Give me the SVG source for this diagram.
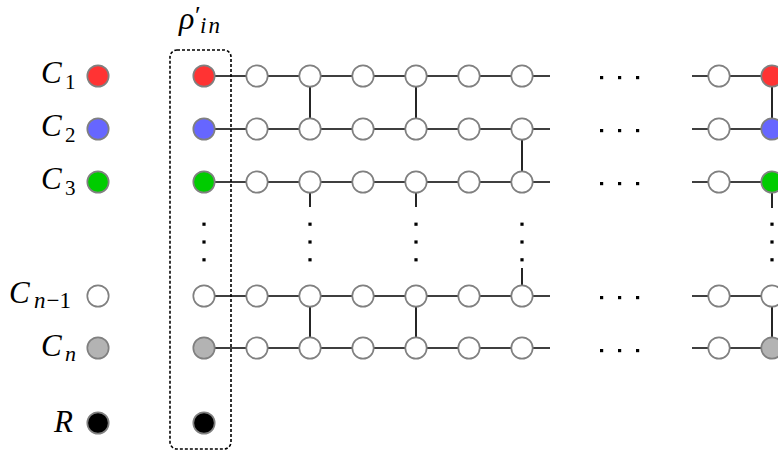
<svg xmlns="http://www.w3.org/2000/svg" width="778" height="455" viewBox="0 0 778 455">
<style>
.n{stroke:#808080;stroke-width:1.7;fill:#fff}
.red{fill:#ff3333}.blue{fill:#6666ff}.green{fill:#00cc00}.gray{fill:#b3b3b3}.blk{fill:#000}
.e{stroke:#000;stroke-width:1.7;fill:none}
.d{fill:#000}
.t{font-family:"Liberation Serif",serif;font-style:italic;font-size:31px;fill:#000}
.s{font-family:"Liberation Serif",serif;font-size:21px;fill:#000;font-style:normal}
.si{font-family:"Liberation Serif",serif;font-size:22px;fill:#000;font-style:italic}
</style>
<rect width="778" height="455" fill="#fff"/>
<g id="labels">
<text class="t" x="41" y="83">C</text><text class="s" x="65" y="89">1</text>
<text class="t" x="41" y="136">C</text><text class="s" x="65" y="142">2</text>
<text class="t" x="41" y="189">C</text><text class="s" x="65" y="195">3</text>
<text class="t" x="9" y="303">C</text><text class="si" x="34" y="308" style="font-size:23px">n<tspan class="s" dx="1" style="font-size:23px">−1</tspan></text>
<text class="t" x="41" y="356">C</text><text class="si" x="65" y="361">n</text>
<text class="t" x="54" y="432">R</text>
<text class="t" x="179" y="29" style="font-size:32px">ρ<tspan x="195" y="24" style="font-size:26px;font-style:normal">′</tspan><tspan x="200" y="33" style="font-size:23px">i</tspan><tspan dx="2" style="font-size:23px">n</tspan></text>
</g>
<g id="box"><rect x="170" y="50" width="61" height="399" rx="7" fill="none" stroke="#000" stroke-width="1.6" stroke-dasharray="3 2"/></g>
<g id="connectors">
<path class="e" d="M204 76H550M204 129H550M204 182H550M204 296H550M204 348H550"/>
<path class="e" d="M692 76H778M692 129H778M692 182H778M692 296H778M692 348H778"/>
<path class="e" d="M310 76V129M416 76V129M522 129V182M310 182V207M416 182V207M522 268V296M310 296V348M416 296V348"/>
<path class="e" d="M772 76V129M772 182V208M772 296V348"/>
</g>
<g id="dots">
<rect class="d" x="600" y="76" width="3.2" height="3.2"/><rect class="d" x="618" y="76" width="3.2" height="3.2"/><rect class="d" x="636" y="76" width="3.2" height="3.2"/>
<rect class="d" x="600" y="129" width="3.2" height="3.2"/><rect class="d" x="618" y="129" width="3.2" height="3.2"/><rect class="d" x="636" y="129" width="3.2" height="3.2"/>
<rect class="d" x="600" y="182" width="3.2" height="3.2"/><rect class="d" x="618" y="182" width="3.2" height="3.2"/><rect class="d" x="636" y="182" width="3.2" height="3.2"/>
<rect class="d" x="600" y="296" width="3.2" height="3.2"/><rect class="d" x="618" y="296" width="3.2" height="3.2"/><rect class="d" x="636" y="296" width="3.2" height="3.2"/>
<rect class="d" x="600" y="349" width="3.2" height="3.2"/><rect class="d" x="618" y="349" width="3.2" height="3.2"/><rect class="d" x="636" y="349" width="3.2" height="3.2"/>
<rect class="d" x="202.4" y="222.6" width="3.2" height="3.2"/><rect class="d" x="202.4" y="240.4" width="3.2" height="3.2"/><rect class="d" x="202.4" y="258.2" width="3.2" height="3.2"/>
<rect class="d" x="308.4" y="222.6" width="3.2" height="3.2"/><rect class="d" x="308.4" y="240.4" width="3.2" height="3.2"/><rect class="d" x="308.4" y="258.2" width="3.2" height="3.2"/>
<rect class="d" x="414.4" y="222.6" width="3.2" height="3.2"/><rect class="d" x="414.4" y="240.4" width="3.2" height="3.2"/><rect class="d" x="414.4" y="258.2" width="3.2" height="3.2"/>
<rect class="d" x="520.4" y="222.6" width="3.2" height="3.2"/><rect class="d" x="520.4" y="240.4" width="3.2" height="3.2"/><rect class="d" x="520.4" y="258.2" width="3.2" height="3.2"/>
<rect class="d" x="770.4" y="222.6" width="3.2" height="3.2"/><rect class="d" x="770.4" y="240.4" width="3.2" height="3.2"/><rect class="d" x="770.4" y="258.2" width="3.2" height="3.2"/>
</g>
<g id="legend">
<circle class="n red" cx="98" cy="76" r="10.7"/>
<circle class="n blue" cx="98" cy="129" r="10.7"/>
<circle class="n green" cx="98" cy="182" r="10.7"/>
<circle class="n" cx="98" cy="296" r="10.7"/>
<circle class="n gray" cx="98" cy="348" r="10.7"/>
<circle class="n blk" cx="98" cy="423" r="10.7"/>
</g>
<g id="input">
<circle class="n red" cx="204" cy="76" r="10.7"/>
<circle class="n blue" cx="204" cy="129" r="10.7"/>
<circle class="n green" cx="204" cy="182" r="10.7"/>
<circle class="n" cx="204" cy="296" r="10.7"/>
<circle class="n gray" cx="204" cy="348" r="10.7"/>
<circle class="n blk" cx="204" cy="423" r="10.7"/>
</g>
<g id="chain">
<g id="row1"><circle class="n" cx="257" cy="76" r="10.7"/><circle class="n" cx="310" cy="76" r="10.7"/><circle class="n" cx="363" cy="76" r="10.7"/><circle class="n" cx="416" cy="76" r="10.7"/><circle class="n" cx="469" cy="76" r="10.7"/><circle class="n" cx="522" cy="76" r="10.7"/></g>
<g id="row2"><circle class="n" cx="257" cy="129" r="10.7"/><circle class="n" cx="310" cy="129" r="10.7"/><circle class="n" cx="363" cy="129" r="10.7"/><circle class="n" cx="416" cy="129" r="10.7"/><circle class="n" cx="469" cy="129" r="10.7"/><circle class="n" cx="522" cy="129" r="10.7"/></g>
<g id="row3"><circle class="n" cx="257" cy="182" r="10.7"/><circle class="n" cx="310" cy="182" r="10.7"/><circle class="n" cx="363" cy="182" r="10.7"/><circle class="n" cx="416" cy="182" r="10.7"/><circle class="n" cx="469" cy="182" r="10.7"/><circle class="n" cx="522" cy="182" r="10.7"/></g>
<g id="row4"><circle class="n" cx="257" cy="296" r="10.7"/><circle class="n" cx="310" cy="296" r="10.7"/><circle class="n" cx="363" cy="296" r="10.7"/><circle class="n" cx="416" cy="296" r="10.7"/><circle class="n" cx="469" cy="296" r="10.7"/><circle class="n" cx="522" cy="296" r="10.7"/></g>
<g id="row5"><circle class="n" cx="257" cy="348" r="10.7"/><circle class="n" cx="310" cy="348" r="10.7"/><circle class="n" cx="363" cy="348" r="10.7"/><circle class="n" cx="416" cy="348" r="10.7"/><circle class="n" cx="469" cy="348" r="10.7"/><circle class="n" cx="522" cy="348" r="10.7"/></g>
</g>
<g id="output">
<circle class="n" cx="719" cy="76" r="10.7"/><circle class="n red" cx="772" cy="76" r="10.7"/>
<circle class="n" cx="719" cy="129" r="10.7"/><circle class="n blue" cx="772" cy="129" r="10.7"/>
<circle class="n" cx="719" cy="182" r="10.7"/><circle class="n green" cx="772" cy="182" r="10.7"/>
<circle class="n" cx="719" cy="296" r="10.7"/><circle class="n" cx="772" cy="296" r="10.7"/>
<circle class="n" cx="719" cy="348" r="10.7"/><circle class="n gray" cx="772" cy="348" r="10.7"/>
</g>
</svg>
